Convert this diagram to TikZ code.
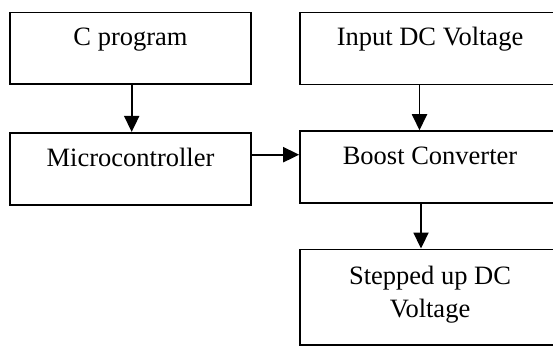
\documentclass[tikz,border=0pt]{standalone}
\usepackage{fontspec}
\setmainfont{Liberation Serif}
\usetikzlibrary{arrows.meta}
\begin{document}
\begin{tikzpicture}[x=1pt,y=-1pt,
  blk/.style={draw, line width=1.6pt, rectangle, inner sep=0pt},
  lbl/.style={font=\fontsize{26.5}{33.3}\selectfont, inner sep=0pt, anchor=base, align=center},
  arr/.style={line width=1.9pt, -{Triangle[length=16pt,width=15pt]}}]
\useasboundingbox (0,0) rectangle (553,347);
\node[blk, minimum width=241pt, minimum height=71.5pt] (cprog) at (130.5,48.3) {};
\node[blk, minimum width=260pt, minimum height=72pt] (input) at (430,48.6) {};
\node[blk, minimum width=241pt, minimum height=72.3pt] (micro) at (130.5,168.9) {};
\node[blk, minimum width=260pt, minimum height=71.7pt] (boost) at (430,166.9) {};
\node[blk, minimum width=260pt, minimum height=95.7pt] (stepped) at (430,297.2) {};
\node[lbl] (tcprog) at ([yshift=-34.2pt]cprog.north) {C program};
\node[lbl] (tinput) at ([yshift=-34.2pt]input.north) {Input DC Voltage};
\node[lbl] (tmicro) at ([yshift=-34.5pt]micro.north) {Microcontroller};
\node[lbl] (tboost) at ([yshift=-34.5pt]boost.north) {Boost Converter};
\node[lbl] (tstep) at ([yshift=-69pt]stepped.north) {Stepped up DC\\Voltage};
\coordinate (h) at (0,154.7);
\draw[arr] ([xshift=1.2pt]cprog.south) -- ([xshift=1.2pt]micro.north);
\draw[arr] ([xshift=-10.5pt]input.south) -- ([xshift=-10.5pt]boost.north);
\draw[arr] ([xshift=-9pt]boost.south) -- ([xshift=-9pt]stepped.north);
\draw[arr] (micro.east |- h) -- (boost.west |- h);
\end{tikzpicture}
\end{document}
